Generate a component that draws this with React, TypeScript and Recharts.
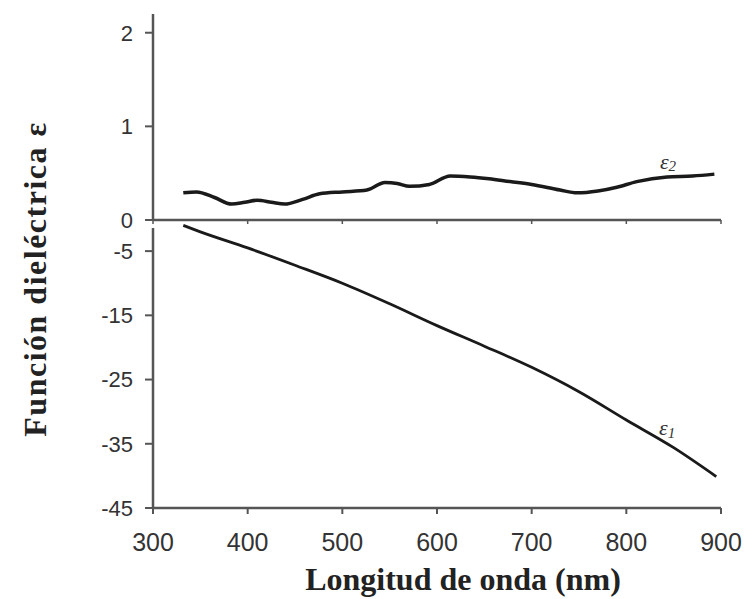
import { Label, Line, LineChart, ReferenceDot, ReferenceLine, XAxis, YAxis } from 'recharts';

// wavelength (nm) and imaginary part ε2
const eps2Wavelength = [
  332, 346, 365, 383, 397, 410, 425, 439, 458, 476, 500, 526, 545, 558, 571,
  592, 614, 635, 655, 677, 700, 730, 748, 770, 790, 811, 843, 870, 893,
];
const eps2Values = [
  0.29, 0.3, 0.24, 0.17, 0.19, 0.21, 0.19, 0.17, 0.22, 0.28, 0.3, 0.32, 0.4,
  0.39, 0.36, 0.38, 0.47, 0.46, 0.44, 0.41, 0.38, 0.32, 0.29, 0.31, 0.35,
  0.41, 0.46, 0.47, 0.49,
];

// wavelength (nm) and real part ε1
const eps1Wavelength = [332, 350, 400, 450, 500, 550, 600, 650, 700, 750, 800, 850, 895];
const eps1Values = [
  -1.0, -2.0, -4.5, -7.2, -10.0, -13.2, -16.6, -19.8, -23.1, -26.9, -31.3,
  -35.6, -40.1,
];

const xTicks = [300, 400, 500, 600, 700, 800, 900];
const topTicks = [0, 1, 2];
const bottomTicks = [-45, -35, -25, -15, -5];

const eps2Data = eps2Wavelength.map((wl, i) => ({ wl, eps2: eps2Values[i] }));
const eps1Data = eps1Wavelength.map((wl, i) => ({ wl, eps1: eps1Values[i] }));

const AXIS = '#555';
const TICK_FONT = { fontFamily: 'Liberation Sans, Arial, sans-serif', fill: '#333' };
const TITLE_FONT = 'Liberation Serif, Times New Roman, serif';

const epsLabel = (sub: string) => (props: any) => {
  const { viewBox } = props;
  const cx = viewBox.x + viewBox.width / 2;
  const cy = viewBox.y + viewBox.height / 2;
  return (
    <text
      x={cx}
      y={cy}
      textAnchor='middle'
      dominantBaseline='central'
      fontFamily={TITLE_FONT}
      fontStyle='italic'
      fontSize={22}
      fill='#333'
    >
      ε
      <tspan fontSize={15} dy={5}>
        {sub}
      </tspan>
    </text>
  );
};

const App = () => {
  return (
    <div style={{ position: 'absolute', left: 0, top: 0, width: 745, height: 599, background: '#fff' }}>
      {/* lower panel: ε1 on -45..0 */}
      <div style={{ position: 'absolute', left: 0, top: 200 }}>
        <LineChart width={745} height={400} data={eps1Data} margin={{ top: 19, right: 24, bottom: 0, left: 93 }}>
          <XAxis
            dataKey='wl'
            type='number'
            domain={[300, 900]}
            ticks={xTicks}
            interval={0}
            height={92}
            tickSize={6}
            tickMargin={19}
            tick={{ ...TICK_FONT, fontSize: 25 }}
            axisLine={{ stroke: AXIS, strokeWidth: 2.5 }}
            tickLine={{ stroke: AXIS, strokeWidth: 2 }}
          >
            <Label
              value='Longitud de onda (nm)'
              position='insideBottom'
              offset={10}
              dx={26}
              style={{ fontFamily: TITLE_FONT, fontWeight: 'bold', fontSize: 32, fill: '#222' }}
            />
          </XAxis>
          <YAxis
            type='number'
            domain={[-45, 0]}
            ticks={bottomTicks}
            interval={0}
            width={60}
            tickSize={8}
            tickMargin={12}
            tick={{ ...TICK_FONT, fontSize: 22 }}
            axisLine={false}
            tickLine={{ stroke: AXIS, strokeWidth: 2 }}
          />
          {/* y axis resumes below the break */}
          <ReferenceLine
            segment={[
              { x: 300, y: -1.4 },
              { x: 300, y: -45 },
            ]}
            stroke={AXIS}
            strokeWidth={2.5}
          />
          <Line
            type='monotone'
            dataKey='eps1'
            stroke='#1a1a1a'
            strokeWidth={2.8}
            dot={false}
            isAnimationActive={false}
          />
          <ReferenceDot x={843} y={-32.5} r={1} fill='none' stroke='none' label={{ content: epsLabel('1') }} />
        </LineChart>
      </div>

      {/* upper panel: ε2 on 0..2, drawn on top so the 0 label is not covered */}
      <div style={{ position: 'absolute', left: 0, top: 0 }}>
        <LineChart width={745} height={250} data={eps2Data} margin={{ top: 14, right: 24, bottom: 0, left: 93 }}>
          <XAxis
            dataKey='wl'
            type='number'
            domain={[300, 900]}
            ticks={xTicks}
            interval={0}
            tickFormatter={() => ''}
            tickSize={4}
            height={30}
            axisLine={{ stroke: AXIS, strokeWidth: 2.5 }}
            tickLine={{ stroke: AXIS, strokeWidth: 1.5 }}
          />
          <YAxis
            type='number'
            domain={[0, 2.2]}
            ticks={topTicks}
            interval={0}
            width={60}
            tickSize={8}
            tickMargin={12}
            tick={{ ...TICK_FONT, fontSize: 22 }}
            axisLine={{ stroke: AXIS, strokeWidth: 2.5 }}
            tickLine={{ stroke: AXIS, strokeWidth: 2 }}
          />
          <Line
            type='monotone'
            dataKey='eps2'
            stroke='#1a1a1a'
            strokeWidth={3.5}
            dot={false}
            isAnimationActive={false}
          />
          <ReferenceDot x={844} y={0.63} r={1} fill='none' stroke='none' label={{ content: epsLabel('2') }} />
        </LineChart>
      </div>

      <div
        style={{
          position: 'absolute',
          left: 35 - 200,
          top: 279 - 20,
          width: 400,
          height: 40,
          lineHeight: '40px',
          textAlign: 'center',
          transform: 'rotate(-90deg)',
          fontFamily: TITLE_FONT,
          fontWeight: 'bold',
          fontSize: 32,
          letterSpacing: 1.5,
          color: '#222',
          whiteSpace: 'nowrap',
        }}
      >
        Función dieléctrica ε
      </div>
    </div>
  );
};

export default App;
